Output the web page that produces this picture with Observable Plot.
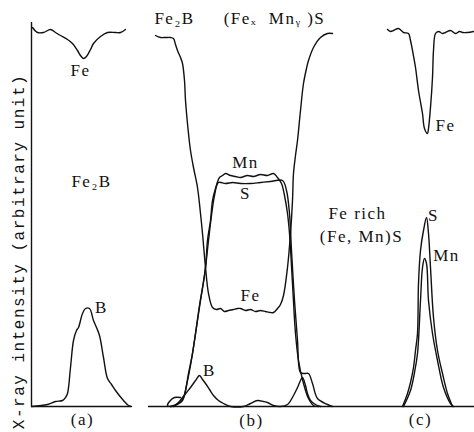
<!DOCTYPE html>
<html><head><meta charset="utf-8">
<script src="https://cdn.jsdelivr.net/npm/d3@7"></script>
<script src="https://cdn.jsdelivr.net/npm/@observablehq/plot@0.6"></script>
<style>
body{margin:0;background:#fff}
#chart svg text{letter-spacing:1.5px}
</style>
</head><body><div id="chart"></div>
<script>
// distance (arbitrary) , X-ray intensity (arbitrary unit)
const aFe = [[1,379],[6,374],[12,374],[19,377],[24,374],[29,371],[36,367],[41,363],[46,356],[49,351],[52,348],[55,350],[59,357],[62,363],[69,370],[76,374],[84,374],[89,374],[94,377]];
const aB = [[0,0],[16,2],[24,5],[31,6],[34,9],[36,13],[39,39],[42,66],[45,76],[47,79],[51,93],[54,98],[58,98],[62,86],[65,79],[68,71],[72,49],[76,28],[80,22],[84,16],[92,6],[97,1],[100,0]];
const bFe = [[124,371],[129,369],[134,369],[139,369],[142,368],[144,362],[146,356],[149,349],[151,343],[153,326],[154,306],[157,273],[159,256],[162,239],[166,219],[169,193],[171,173],[174,139],[177,113],[181,99],[185,97],[189,98],[193,95],[197,96],[202,97],[206,98],[209,98],[214,96],[219,97],[224,95],[229,96],[234,95],[239,94],[242,94],[246,98],[249,102],[252,111],[256,139],[259,173],[261,206],[262,233],[264,251],[266,266],[269,296],[272,323],[275,338],[277,346],[282,359],[289,369],[296,373],[301,373]];
const bMn = [[149,9],[143,9],[138,5],[136,1],[140,0],[146,2],[151,6],[154,16],[157,33],[161,53],[163,66],[166,86],[169,106],[174,139],[176,166],[179,186],[181,206],[184,218],[188,229],[191,231],[194,233],[199,231],[204,230],[209,229],[216,231],[222,230],[229,232],[236,231],[242,233],[246,229],[250,223],[253,211],[256,193],[258,173],[261,123],[264,73],[267,46],[272,23],[277,8],[282,1],[287,0]];
const bS = [[139,0],[146,3],[152,9],[155,21],[159,41],[163,66],[168,101],[173,131],[177,166],[180,191],[183,211],[187,224],[194,223],[201,224],[209,223],[219,223],[229,224],[239,225],[251,226],[255,216],[258,193],[260,156],[263,106],[266,66],[269,34],[273,33],[277,33],[281,23],[286,8],[296,2],[301,0]];
const bB = [[142,0],[147,4],[151,9],[155,14],[159,19],[164,26],[168,31],[171,27],[174,23],[178,17],[182,11],[187,6],[192,3],[199,0],[212,0],[219,3],[226,6],[232,5],[236,4],[242,1],[249,0],[256,2],[262,11],[266,19],[269,26],[271,29],[274,21],[276,13],[279,6],[284,2],[289,0]];
const cFe = [[356,377],[359,375],[362,376],[367,378],[372,374],[377,373],[379,366],[381,356],[384,339],[387,316],[391,293],[393,278],[396,273],[397,278],[399,299],[401,329],[402,356],[404,373],[407,375],[411,373],[414,374],[419,376],[424,373],[428,375],[431,374],[436,374],[442,375]];
const cS = [[371,0],[376,13],[379,24],[382,39],[384,56],[386,73],[387,123],[389,156],[392,176],[395,189],[397,173],[399,139],[402,89],[406,56],[411,33],[416,13],[421,0]];
const cMn = [[372,0],[379,16],[383,34],[386,53],[389,106],[391,139],[393,148],[395,143],[397,106],[401,73],[406,46],[412,19],[419,3],[422,0]];

const panelBaselines = [{x1:0,x2:100},{x1:117,x2:443}];
const labelText = ["Fe","Fe₂B","B","(a)","Fe₂B","(Feₓ\u00a0\u00a0Mnᵧ\u00a0)S","Mn","S","Fe","B","(b)","Fe rich","(Fe, Mn)S","S","Mn","Fe","(c)"];
const labelX = [49,60,70,51,143,243,214,214,219,178,220,326,330,402,415,414,389];
const labelY = [336,225,99,-13,388,388,244,213,111,36,-14,193,170,191,151,281,-13];
const yTitle = "X-ray intensity (arbitrary unit)";

const series = [aFe,aB,bFe,bMn,bS,bB,cFe,cS,cMn];
const labels = labelText.map((t,i)=>({t,x:labelX[i],y:labelY[i]}));

const chart = Plot.plot({
  width:474, height:432,
  marginLeft:31, marginRight:0, marginTop:0, marginBottom:26,
  x:{domain:[0,443], axis:null},
  y:{domain:[0,406], axis:null},
  style:{background:"#fff", color:"#111"},
  marks:[
    Plot.ruleX([0], {y1:0, y2:384, stroke:"#111", strokeWidth:1.4}),
    Plot.ruleY(panelBaselines, {y:0, x1:"x1", x2:"x2", stroke:"#111", strokeWidth:1.4}),
    ...series.map(s => Plot.line(s, {x:d=>d[0], y:d=>d[1], stroke:"#111", strokeWidth:1.4, curve:"catmull-rom"})),
    Plot.text(labels, {x:"x", y:"y", text:"t", fontSize:17, fontFamily:"Liberation Serif", fill:"#111"}),
    Plot.text([yTitle], {x:-13, y:155, text:d=>d, rotate:-90, fontSize:16, fontFamily:"Liberation Mono", fill:"#111"})
  ]
});
document.getElementById("chart").appendChild(chart);
</script>
</body></html>
